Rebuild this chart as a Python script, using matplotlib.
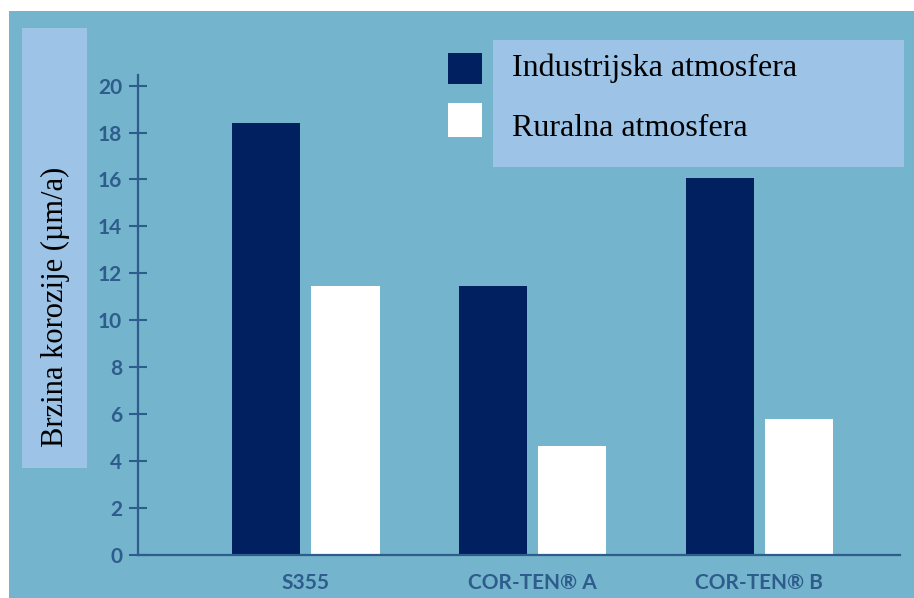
import numpy as np
import matplotlib
matplotlib.use("Agg")
import matplotlib.pyplot as plt
from matplotlib.patches import Rectangle

# ---------------------------------------------
# DATA
# ---------------------------------------------
categories = ["S355", "COR-TEN\u00ae A", "COR-TEN\u00ae B"]
industrial = [18.4, 11.45, 16.05]
rural      = [11.45, 4.65, 5.8]
series_names = ["Industrijska atmosfera", "Ruralna atmosfera"]
yticks = [0, 2, 4, 6, 8, 10, 12, 14, 16, 18, 20]

DARK   = "#002060"
PANEL  = "#74B4CC"
LIGHT  = "#9DC3E6"
AXCOL  = "#2E5C8C"

W, H = 914, 598
fig = plt.figure(figsize=(W / 100, H / 100), dpi=100)
fig.patch.set_facecolor("white")

def px(x0, y0, x1, y1):
    # pixel box (top-left origin) -> figure fraction rect
    return (x0 / W, 1 - y1 / H), (x1 - x0) / W, (y1 - y0) / H

# background panel + label box
for box, col in [((9, 11, 914, 598), PANEL), ((22, 28, 87, 468), LIGHT),
                 ((493, 40, 904, 167), LIGHT)]:
    xy, w, h = px(*box)
    fig.patches.append(Rectangle(xy, w, h, transform=fig.transFigure,
                                 facecolor=col, edgecolor="none", zorder=0))

# legend markers
for (y0, y1), col in [((53, 84), DARK), ((103, 137), "white")]:
    xy, w, h = px(448, y0, 482, y1)
    fig.patches.append(Rectangle(xy, w, h, transform=fig.transFigure,
                                 facecolor=col, edgecolor="none", zorder=1))
for name, yy in zip(series_names, [68, 128]):
    fig.text(512 / W, 1 - yy / H, name, ha="left", va="center",
             fontsize=23, family="Liberation Serif", color="black")

fig.text(55 / W, 1 - 307 / H, "Brzina korozije (\u00b5m/a)", rotation=90,
         ha="center", va="center", fontsize=22, family="Liberation Serif",
         color="black")

# ---------------------------------------------
# AXES
# ---------------------------------------------
ax = fig.add_axes([138 / W, 43 / H, (900 - 138) / W, (555 - 75) / H])
ax.patch.set_alpha(0)
ax.set_zorder(3)

x = np.arange(len(categories))
bw = 0.30
gap = 0.05
ax.bar(x - (bw + gap) / 2, industrial, width=bw, color=DARK, zorder=2)
ax.bar(x + (bw + gap) / 2, rural, width=bw, color="white", zorder=2)

ax.set_xlim(-0.74, 2.62)
ax.set_ylim(0, 20.45)
ax.set_yticks(yticks)
ax.set_yticklabels([str(t) for t in yticks], fontsize=15, family="Lato",
                   fontweight="bold", color=AXCOL)
ax.set_xticks(x)
ax.set_xticklabels(categories, fontsize=15, family="Lato",
                   fontweight="bold", color=AXCOL)
ax.tick_params(axis="y", direction="inout", length=13, width=1.5,
               color=AXCOL, pad=5)
ax.tick_params(axis="x", length=0, pad=13)

for s in ["top", "right"]:
    ax.spines[s].set_visible(False)
for s in ["left", "bottom"]:
    ax.spines[s].set_color(AXCOL)
    ax.spines[s].set_linewidth(1.6)

fig.savefig("out.png", dpi=100)
